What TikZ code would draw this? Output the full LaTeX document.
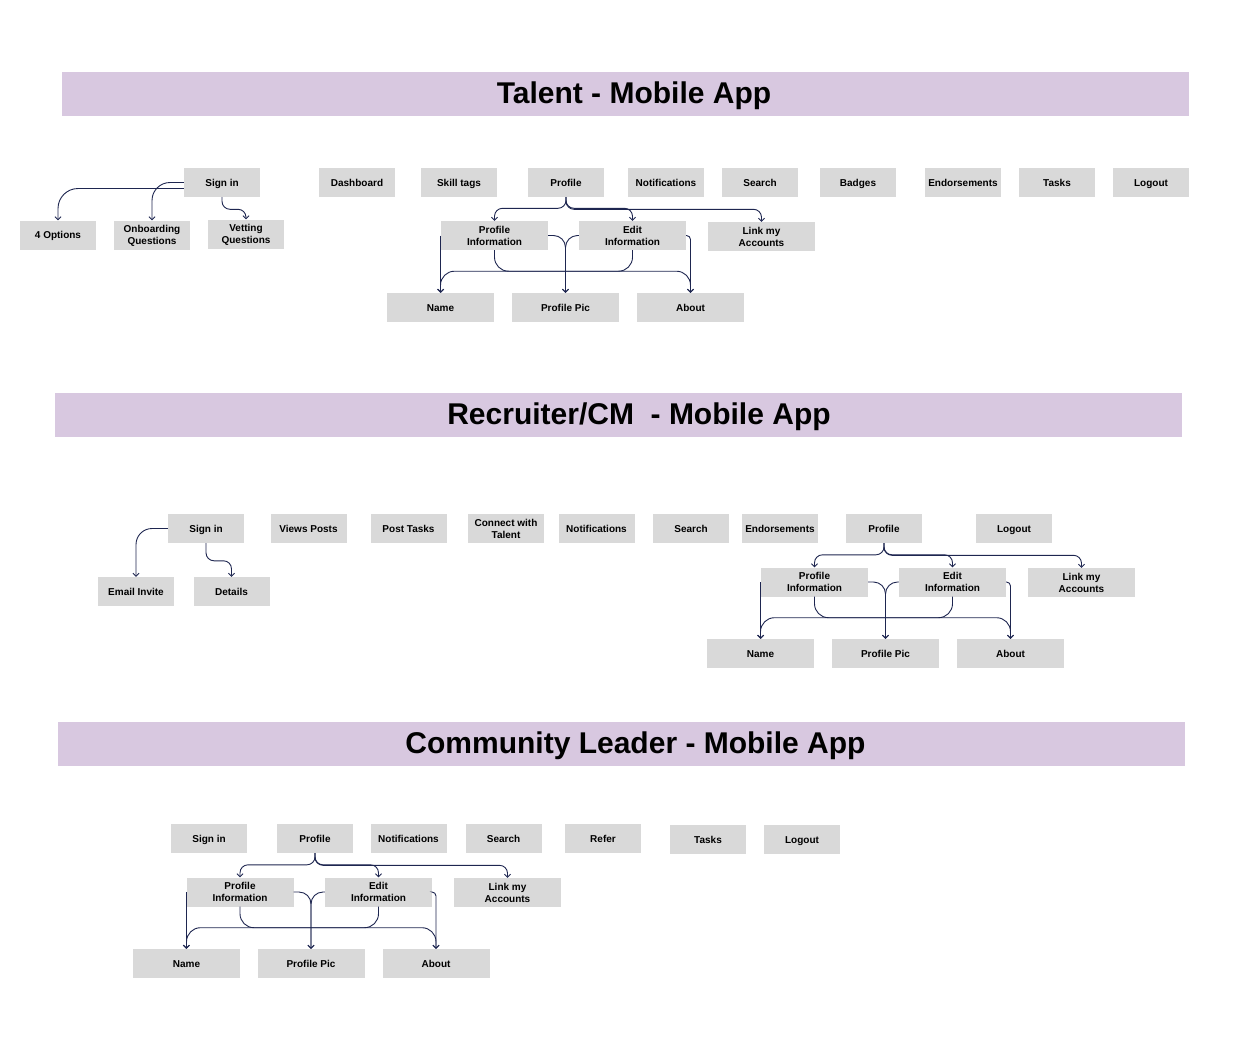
\documentclass[tikz,border=0pt]{standalone}
\usepackage{fontspec}
\setmainfont{Liberation Sans}
\usetikzlibrary{arrows.meta}
\definecolor{boxgray}{HTML}{D9D9D9}
\definecolor{bannerlilac}{HTML}{D8C8E0}
\definecolor{linknavy}{HTML}{1E2650}

\begin{document}
\begin{tikzpicture}[x=1pt, y=-1pt,
    box/.style={fill=boxgray, inner sep=0pt, minimum width=76pt, minimum height=29pt, align=center, font=\fontsize{10}{12}\selectfont\bfseries,
      text height=9.5pt, text depth=2.3pt},
    dbox/.style={box, text height=21.6pt, text depth=2.4pt},
    wbox/.style={box, minimum width=107pt},
    wdbox/.style={dbox, minimum width=107pt},
    banner/.style={fill=bannerlilac, inner sep=0pt, minimum width=1127pt, minimum height=44pt},
    title/.style={inner sep=0pt, anchor=base, font=\fontsize{30}{36}\selectfont\bfseries},
    link/.style={draw=linknavy, line width=0.9pt, rounded corners=8pt},
    arr/.style={link, -{Straight Barb[length=3pt,width=6pt]}},
    arrs/.style={link, {Straight Barb[length=3pt,width=6pt]}-{Straight Barb[length=3pt,width=6pt]}}]
    \useasboundingbox (0,0) rectangle (1238,1062);

    \node[banner] (tbanner) at (625.5,94) {};
    \node[title] (ttitle) at (634,103.5) {Talent - Mobile App};

    \node[box] (tsign) at (222,182.5) {Sign in};
    \node[box] (topt) at (58,235) {4 Options};
    \node[dbox] (tonb) at (152,235) {Onboarding\\Questions};
    \node[dbox] (tvet) at (246,234) {Vetting\\Questions};
    \node[box] (tdash) at (357,182.5) {Dashboard};
    \node[box] (tskill) at (459,182.5) {Skill tags};
    \node[box] (tprof) at (566,182.5) {Profile};
    \node[box] (tnotif) at (666,182.5) {Notifications};
    \node[box] (tsearch) at (760,182.5) {Search};
    \node[box] (tbadge) at (858,182.5) {Badges};
    \node[box] (tendo) at (963,182.5) {Endorsements};
    \node[box] (ttask) at (1057,182.5) {Tasks};
    \node[box] (tlogout) at (1151,182.5) {Logout};
    \node[wdbox] (tpi) at (494.5,235.5) {Profile\\Information};
    \node[wdbox] (tei) at (632.5,235.5) {Edit\\Information};
    \node[wdbox] (tla) at (761.5,236.5) {Link my\\Accounts};
    \node[wbox] (tname) at (440.5,307.5) {Name};
    \node[wbox] (tpp) at (565.5,307.5) {Profile Pic};
    \node[wbox] (tabout) at (690.5,307.5) {About};

    \draw[arr, rounded corners=20pt] ([yshift=-6pt]tsign.west) -| (topt.north);
    \draw[arr, rounded corners=18pt] (tsign.west) -| (tonb.north);
    \draw[arr] (tsign.south) |- ([yshift=10pt]tvet.north) -- (tvet.north);
    \draw[arr] (tprof.south) |- ([yshift=12.5pt]tpi.north) -- (tpi.north);
    \draw[arr] (tprof.south) |- ([yshift=12.5pt]tei.north) -- (tei.north);
    \draw[arr] (tprof.south) |- ([yshift=12.5pt]tla.north) -- (tla.north);
    \draw[arr] (tpi.west) -- (tpi.west |- tname.north);
    \draw[arr, rounded corners=12pt] (tpi.east) -| (tpp.north);
    \draw[arr, rounded corners=12pt] (tei.west) -| (tpp.north);
    \draw[arr, rounded corners=4pt] (tei.east) -| (tabout.north);
    \draw[link, rounded corners=14pt] (tpi.south) |- ([yshift=-21pt]tei.south) -- (tei.south);
    \draw[arrs, rounded corners=14pt] (tname.north) |- ([yshift=-21pt]tpi.south) -| (tabout.north);

    \node[banner] (rbanner) at (618.5,415) {};
    \node[title] (rtitle) at (639,424.5) {Recruiter/CM\ \ - Mobile App};

    \node[box] (rsign) at (206,528.5) {Sign in};
    \node[box] (remail) at (136,591.5) {Email Invite};
    \node[box] (rdet) at (231.5,591.5) {Details};
    \node[box] (rview) at (308.5,528.5) {Views Posts};
    \node[box] (rpost) at (408.5,528.5) {Post Tasks};
    \node[dbox] (rconn) at (506,528.5) {Connect with\\Talent};
    \node[box] (rnotif) at (596.5,528.5) {Notifications};
    \node[box] (rsearch) at (691,528.5) {Search};
    \node[box] (rendo) at (780,528.5) {Endorsements};
    \node[box] (rprof) at (884,528.5) {Profile};
    \node[box] (rlogout) at (1014,528.5) {Logout};
    \node[wdbox] (rpi) at (814.5,582) {Profile\\Information};
    \node[wdbox] (rei) at (952.5,582) {Edit\\Information};
    \node[wdbox] (rla) at (1081.5,582.5) {Link my\\Accounts};
    \node[wbox] (rname) at (760.5,653.5) {Name};
    \node[wbox] (rpp) at (885.5,653.5) {Profile Pic};
    \node[wbox] (rabout) at (1010.5,653.5) {About};

    \draw[arr, rounded corners=16pt] (rsign.west) -| (remail.north);
    \draw[arr] (rsign.south) |- ([yshift=16pt]rdet.north) -- (rdet.north);
    \draw[arr] (rprof.south) |- ([yshift=12.5pt]rpi.north) -- (rpi.north);
    \draw[arr] (rprof.south) |- ([yshift=12.5pt]rei.north) -- (rei.north);
    \draw[arr] (rprof.south) |- ([yshift=12.5pt]rla.north) -- (rla.north);
    \draw[arr] (rpi.west) -- (rpi.west |- rname.north);
    \draw[arr, rounded corners=12pt] (rpi.east) -| (rpp.north);
    \draw[arr, rounded corners=12pt] (rei.west) -| (rpp.north);
    \draw[arr, rounded corners=4pt] (rei.east) -| (rabout.north);
    \draw[link, rounded corners=14pt] (rpi.south) |- ([yshift=-21pt]rei.south) -- (rei.south);
    \draw[arrs, rounded corners=14pt] (rname.north) |- ([yshift=-21pt]rpi.south) -| (rabout.north);

    \node[banner] (cbanner) at (621.5,744) {};
    \node[title] (ctitle) at (635.5,753.5) {Community Leader - Mobile App};

    \node[box] (csign) at (209,838.5) {Sign in};
    \node[box] (cprof) at (315,838.5) {Profile};
    \node[box] (cnotif) at (408.5,838.5) {Notifications};
    \node[box] (csearch) at (503.5,838.5) {Search};
    \node[box] (crefer) at (603,838.5) {Refer};
    \node[box] (ctask) at (708,839.5) {Tasks};
    \node[box] (clogout) at (802,839.5) {Logout};
    \node[wdbox] (cpi) at (240,892) {Profile\\Information};
    \node[wdbox] (cei) at (378.5,892) {Edit\\Information};
    \node[wdbox] (cla) at (507.5,892.5) {Link my\\Accounts};
    \node[wbox] (cname) at (186.5,963.5) {Name};
    \node[wbox] (cpp) at (311,963.5) {Profile Pic};
    \node[wbox] (cabout) at (436,963.5) {About};

    \draw[arr] (cprof.south) |- ([yshift=12.5pt]cpi.north) -- (cpi.north);
    \draw[arr] (cprof.south) |- ([yshift=12.5pt]cei.north) -- (cei.north);
    \draw[arr] (cprof.south) |- ([yshift=12.5pt]cla.north) -- (cla.north);
    \draw[arr] (cpi.west) -- (cpi.west |- cname.north);
    \draw[arr, rounded corners=12pt] (cpi.east) -| (cpp.north);
    \draw[arr, rounded corners=12pt] (cei.west) -| (cpp.north);
    \draw[arr, rounded corners=4pt] (cei.east) -| (cabout.north);
    \draw[link, rounded corners=14pt] (cpi.south) |- ([yshift=-21pt]cei.south) -- (cei.south);
    \draw[arrs, rounded corners=14pt] (cname.north) |- ([yshift=-21pt]cpi.south) -| (cabout.north);
  \end{tikzpicture}
\end{document}
